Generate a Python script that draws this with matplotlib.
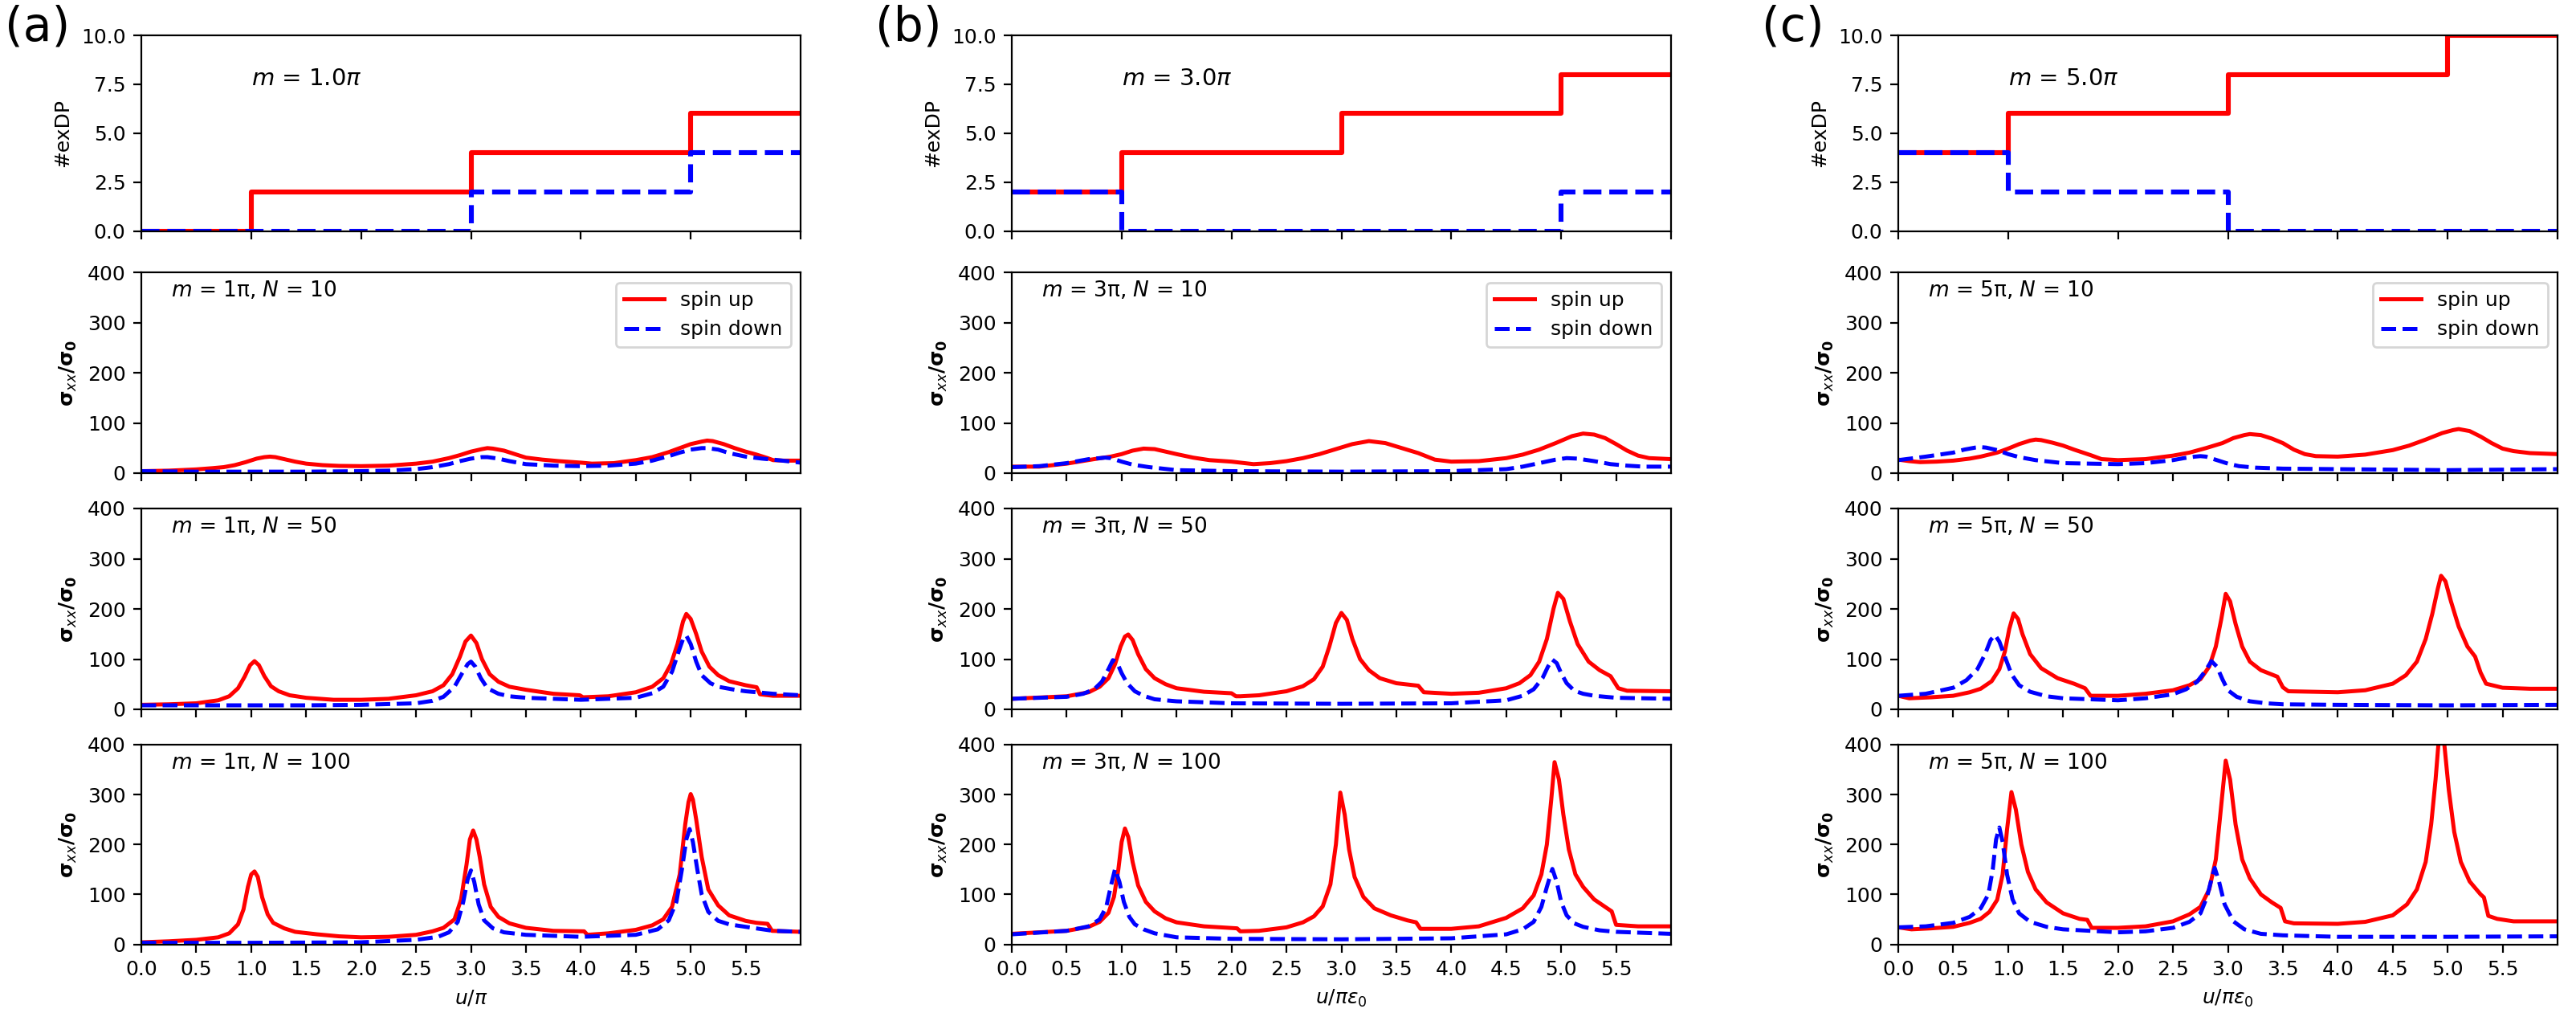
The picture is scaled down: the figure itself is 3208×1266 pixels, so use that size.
import numpy as np
import matplotlib.pyplot as plt

# ---- number of extra Dirac points (top row), steps-post
steps_a_up_x = [0, 1, 3, 5, 6]
steps_a_up_y = [0, 2, 4, 6, 6]
steps_a_dn_x = [0, 3, 5, 6]
steps_a_dn_y = [0, 2, 4, 4]
steps_b_up_x = [0, 1, 3, 5, 6]
steps_b_up_y = [2, 4, 6, 8, 8]
steps_b_dn_x = [0, 1, 5, 6]
steps_b_dn_y = [2, 0, 2, 2]
steps_c_up_x = [0, 1, 3, 5, 6]
steps_c_up_y = [4, 6, 8, 10, 10]
steps_c_dn_x = [0, 1, 3, 6]
steps_c_dn_y = [4, 2, 0, 0]

# ---- column (a), m = 1pi
up_a10_x = [0, 0.25, 0.5, 0.65, 0.75, 0.85, 0.95, 1.05, 1.12, 1.17, 1.22, 1.3, 1.4, 1.5, 1.65, 1.8, 2.0,
            2.25, 2.5, 2.65, 2.8, 2.9, 3.0, 3.1, 3.15, 3.2, 3.3, 3.4, 3.5, 3.65, 3.8, 4.0, 4.1, 4.3,
            4.5, 4.65, 4.8, 4.9, 5.0, 5.1, 5.15, 5.2, 5.3, 5.4, 5.5, 5.6, 5.7, 5.75, 5.85, 6.0]
up_a10_y = [4, 5, 7.5, 10, 12, 16, 22, 29, 32, 33, 32, 28, 23, 19, 16, 14.5, 14,
            15, 19, 23, 30, 36, 43, 48, 50, 49, 45, 38, 31, 27, 24, 21, 19, 20,
            26, 32, 42, 50, 58, 63, 65, 64, 58, 50, 43, 37, 30, 26, 25, 25]
dn_a10_x = [0, 0.5, 1.0, 1.5, 2.0, 2.25, 2.5, 2.65, 2.8, 2.9, 3.0, 3.1, 3.15, 3.25, 3.35, 3.5, 3.75,
            4.0, 4.25, 4.5, 4.65, 4.8, 4.9, 5.0, 5.1, 5.15, 5.25, 5.35, 5.5, 5.65, 5.75, 6.0]
dn_a10_y = [4, 3, 3, 3, 4, 5, 8, 12, 18, 24, 29, 32, 32, 29, 24, 18, 15,
            14, 15, 19, 25, 34, 41, 47, 50, 50, 47, 40, 33, 29, 27, 21]

up_a50_x = [0, 0.25, 0.5, 0.7, 0.8, 0.88, 0.94, 0.99, 1.03, 1.07, 1.12, 1.18, 1.25, 1.35, 1.5, 1.75,
            2.0, 2.25, 2.5, 2.65, 2.75, 2.83, 2.9, 2.95, 3.0, 3.05, 3.1, 3.17, 3.25, 3.35, 3.5, 3.75,
            3.99, 4.02, 4.25, 4.5, 4.65, 4.75, 4.82, 4.88, 4.93, 4.96, 5.0, 5.05, 5.1, 5.17, 5.25,
            5.35, 5.5, 5.6, 5.63, 5.75, 6.0]
up_a50_y = [9, 10, 12, 18, 26, 42, 65, 88, 96, 88, 66, 46, 36, 28, 23, 19,
            19, 21, 28, 36, 48, 70, 105, 135, 147, 132, 100, 70, 55, 45, 39, 31,
            28, 24, 26, 34, 45, 62, 90, 130, 175, 190, 180, 150, 115, 85, 68,
            56, 48, 44, 30, 27, 27]
dn_a50_x = [0, 0.5, 1.0, 1.5, 2.0, 2.5, 2.65, 2.75, 2.85, 2.92, 2.97, 3.0, 3.04, 3.09, 3.15, 3.25,
            3.35, 3.5, 4.0, 4.5, 4.65, 4.75, 4.83, 4.89, 4.93, 4.96, 5.0, 5.05, 5.1, 5.18, 5.25,
            5.4, 5.5, 5.75, 6.0]
dn_a50_y = [8, 8, 8, 8, 9, 12, 17, 25, 45, 72, 90, 95, 85, 62, 42, 31,
            26, 23, 19, 23, 32, 45, 75, 115, 140, 147, 130, 95, 68, 52, 45,
            39, 36, 31, 28]

up_a100_x = [0, 0.25, 0.5, 0.7, 0.8, 0.88, 0.93, 0.97, 1.0, 1.03, 1.06, 1.1, 1.15, 1.2, 1.3, 1.4, 1.6,
             1.8, 2.0, 2.25, 2.5, 2.65, 2.75, 2.85, 2.91, 2.96, 2.99, 3.02, 3.05, 3.08, 3.12, 3.18,
             3.25, 3.35, 3.5, 3.75, 4.03, 4.06, 4.25, 4.5, 4.65, 4.75, 4.83, 4.9, 4.95, 4.98, 5.0,
             5.02, 5.05, 5.1, 5.16, 5.25, 5.35, 5.5, 5.6, 5.7, 5.74, 6.0]
up_a100_y = [4, 6, 9, 14, 22, 40, 70, 115, 140, 146, 135, 94, 60, 43, 32, 25, 20,
             16, 14, 15, 19, 26, 33, 50, 90, 160, 210, 228, 210, 175, 120, 75,
             55, 42, 33, 27, 26, 19, 22, 29, 38, 50, 75, 140, 240, 285, 301,
             290, 250, 175, 110, 78, 58, 47, 43, 41, 27, 25]
dn_a100_x = [0, 1.0, 2.0, 2.5, 2.7, 2.8, 2.88, 2.93, 2.97, 3.0, 3.03, 3.07, 3.12, 3.2, 3.3, 3.5, 4.0,
             4.5, 4.7, 4.8, 4.87, 4.92, 4.96, 4.99, 5.02, 5.06, 5.1, 5.16, 5.25, 5.35, 5.5, 5.75, 6.0]
dn_a100_y = [3, 3, 4, 9, 15, 24, 45, 85, 130, 148, 125, 80, 48, 32, 24, 19, 15,
             19, 30, 48, 85, 150, 210, 231, 205, 150, 100, 65, 47, 40, 35, 27, 25]

# ---- column (b), m = 3pi
up_b10_x = [0, 0.25, 0.5, 0.75, 0.9, 1.0, 1.1, 1.2, 1.3, 1.4, 1.5, 1.65, 1.8, 2.0, 2.2, 2.35, 2.5,
            2.65, 2.8, 2.95, 3.1, 3.25, 3.4, 3.55, 3.7, 3.85, 4.0, 4.25, 4.5, 4.65, 4.8, 4.95, 5.1,
            5.2, 5.3, 5.4, 5.5, 5.6, 5.7, 5.8, 6.0]
up_b10_y = [13, 13, 19, 28, 33, 38, 45, 49, 48, 43, 38, 31, 26, 23, 18, 20, 24,
            30, 38, 48, 58, 64, 60, 50, 40, 27, 23, 24, 30, 37, 47, 60, 74,
            79, 77, 70, 58, 45, 35, 30, 28]
dn_b10_x = [0, 0.25, 0.5, 0.6, 0.7, 0.8, 0.85, 0.9, 1.0, 1.1, 1.25, 1.5, 2.0, 3.0, 4.0, 4.5, 4.65,
            4.8, 4.95, 5.05, 5.15, 5.3, 5.45, 5.6, 5.75, 6.0]
dn_b10_y = [12, 14, 20, 24, 28, 30, 31, 30, 23, 17, 12, 6, 4, 3, 4, 8, 13,
            20, 27, 30, 29, 24, 18, 15, 13, 13]

up_b50_x = [0, 0.5, 0.7, 0.8, 0.88, 0.94, 0.99, 1.03, 1.06, 1.1, 1.15, 1.22, 1.3, 1.4, 1.5, 1.75, 2.0,
            2.04, 2.08, 2.25, 2.5, 2.65, 2.75, 2.83, 2.89, 2.95, 3.0, 3.05, 3.1, 3.17, 3.25, 3.35,
            3.5, 3.7, 3.75, 4.0, 4.25, 4.5, 4.62, 4.72, 4.8, 4.87, 4.93, 4.97, 5.02, 5.08, 5.15,
            5.25, 5.35, 5.45, 5.52, 5.6, 6.0]
up_b50_y = [21, 26, 34, 45, 62, 90, 125, 145, 149, 138, 110, 80, 62, 50, 42, 35, 32,
            26, 26, 28, 36, 46, 60, 85, 125, 172, 192, 178, 140, 100, 78, 62,
            52, 47, 34, 31, 33, 42, 52, 68, 95, 140, 200, 232, 220, 175, 130,
            95, 78, 66, 42, 37, 36]
dn_b50_x = [0, 0.5, 0.65, 0.75, 0.82, 0.88, 0.92, 0.96, 1.0, 1.05, 1.12, 1.2, 1.3, 1.5, 2.0, 3.0, 4.0,
            4.5, 4.65, 4.75, 4.83, 4.88, 4.92, 4.96, 5.0, 5.05, 5.12, 5.2, 5.3, 5.5, 6.0]
dn_b50_y = [21, 25, 31, 40, 55, 80, 98, 92, 72, 52, 36, 27, 20, 16, 12, 11, 12,
            18, 27, 40, 62, 85, 99, 92, 72, 52, 37, 31, 27, 23, 21]

up_b100_x = [0, 0.5, 0.7, 0.8, 0.88, 0.93, 0.97, 1.0, 1.03, 1.06, 1.1, 1.15, 1.22, 1.3, 1.4, 1.5, 1.75,
             2.05, 2.08, 2.25, 2.5, 2.65, 2.75, 2.83, 2.9, 2.95, 2.99, 3.03, 3.07, 3.12, 3.2, 3.3,
             3.45, 3.6, 3.68, 3.72, 4.0, 4.25, 4.5, 4.65, 4.75, 4.82, 4.87, 4.91, 4.94, 4.98, 5.02,
             5.07, 5.13, 5.2, 5.3, 5.42, 5.46, 5.5, 5.7, 6.0]
up_b100_y = [21, 27, 35, 45, 63, 95, 150, 205, 232, 215, 165, 118, 85, 66, 52, 44, 36,
             32, 26, 27, 34, 44, 56, 76, 120, 200, 304, 260, 190, 135, 95, 72,
             58, 48, 44, 31, 31, 36, 53, 72, 98, 140, 200, 290, 365, 330, 260,
             190, 140, 115, 90, 72, 66, 39, 36, 36]
dn_b100_x = [0, 0.5, 0.7, 0.8, 0.86, 0.9, 0.94, 0.98, 1.02, 1.07, 1.12, 1.2, 1.3, 1.5, 2.0, 3.0, 4.0,
             4.5, 4.65, 4.75, 4.82, 4.87, 4.92, 4.96, 5.0, 5.05, 5.12, 5.2, 5.35, 5.5, 6.0]
dn_b100_y = [20, 27, 36, 50, 75, 115, 151, 125, 85, 55, 40, 30, 22, 14, 11, 10, 12,
             20, 30, 45, 75, 115, 151, 125, 85, 58, 42, 35, 28, 25, 21]

# ---- column (c), m = 5pi
up_c10_x = [0, 0.1, 0.2, 0.35, 0.5, 0.65, 0.75, 0.9, 1.0, 1.1, 1.2, 1.25, 1.3, 1.4, 1.5, 1.6, 1.75,
            1.85, 2.0, 2.25, 2.5, 2.65, 2.8, 2.95, 3.05, 3.15, 3.2, 3.3, 3.4, 3.5, 3.6, 3.7, 3.8,
            4.0, 4.25, 4.5, 4.65, 4.8, 4.95, 5.05, 5.1, 5.2, 5.3, 5.4, 5.5, 5.6, 5.75, 6.0]
up_c10_y = [27, 24, 22, 23, 25, 29, 33, 41, 49, 58, 65, 67, 66, 61, 55, 47, 36,
            28, 26, 28, 35, 41, 50, 60, 70, 76, 78, 76, 69, 60, 47, 38, 34,
            33, 37, 46, 55, 67, 80, 86, 88, 84, 73, 60, 49, 44, 40, 38]
dn_c10_x = [0, 0.25, 0.5, 0.6, 0.7, 0.75, 0.8, 0.9, 1.0, 1.1, 1.25, 1.5, 2.0, 2.25, 2.5, 2.6, 2.7,
            2.75, 2.8, 2.9, 3.0, 3.1, 3.25, 3.5, 4.0, 5.0, 6.0]
dn_c10_y = [26, 33, 41, 47, 51, 52, 51, 46, 38, 32, 26, 20, 18, 20, 26, 30, 33,
            34, 33, 26, 19, 14, 11, 9, 8, 6, 8]

up_c50_x = [0, 0.1, 0.3, 0.5, 0.65, 0.75, 0.85, 0.92, 0.97, 1.01, 1.05, 1.09, 1.13, 1.2, 1.3, 1.45,
            1.6, 1.7, 1.75, 2.0, 2.25, 2.5, 2.65, 2.75, 2.83, 2.89, 2.94, 2.98, 3.02, 3.07, 3.13,
            3.2, 3.3, 3.45, 3.5, 3.55, 4.0, 4.25, 4.5, 4.62, 4.72, 4.8, 4.86, 4.91, 4.94, 4.98,
            5.03, 5.1, 5.18, 5.25, 5.3, 5.35, 5.5, 5.75, 6.0]
up_c50_y = [27, 22, 24, 27, 34, 41, 56, 80, 115, 160, 191, 180, 150, 110, 82, 62,
            51, 42, 27, 27, 31, 38, 48, 60, 85, 125, 180, 230, 215, 170, 125,
            95, 78, 65, 44, 36, 34, 38, 51, 68, 95, 140, 190, 240, 266, 255,
            215, 165, 125, 105, 73, 51, 43, 41, 41]
dn_c50_x = [0, 0.25, 0.5, 0.62, 0.72, 0.79, 0.84, 0.88, 0.92, 0.97, 1.03, 1.1, 1.2, 1.35, 1.5, 2.0,
            2.25, 2.5, 2.62, 2.72, 2.79, 2.85, 2.9, 2.95, 3.0, 3.08, 3.2, 3.35, 3.5, 4.0, 5.0, 6.0]
dn_c50_y = [27, 31, 43, 58, 80, 110, 138, 148, 135, 105, 70, 48, 35, 26, 22, 18,
            22, 30, 40, 55, 75, 96, 85, 60, 38, 25, 16, 12, 10, 9, 8, 9]

up_c100_x = [0, 0.12, 0.3, 0.5, 0.65, 0.75, 0.83, 0.9, 0.95, 0.99, 1.03, 1.07, 1.12, 1.18, 1.25, 1.35,
             1.5, 1.65, 1.72, 1.76, 2.0, 2.25, 2.5, 2.65, 2.75, 2.83, 2.89, 2.94, 2.98, 3.02, 3.07,
             3.13, 3.2, 3.3, 3.4, 3.48, 3.52, 3.6, 4.0, 4.25, 4.5, 4.63, 4.72, 4.8, 4.85, 4.89,
             4.93, 4.97, 5.01, 5.06, 5.12, 5.2, 5.3, 5.33, 5.37, 5.45, 5.6, 6.0]
up_c100_y = [34, 30, 32, 35, 43, 51, 65, 89, 140, 230, 305, 270, 200, 145, 110, 84,
             62, 51, 49, 33, 33, 36, 46, 60, 75, 110, 170, 280, 368, 330, 240,
             170, 132, 100, 84, 73, 46, 42, 41, 45, 58, 80, 110, 165, 240, 330,
             440, 400, 310, 225, 165, 126, 100, 94, 57, 51, 46, 46]
dn_c100_x = [0, 0.25, 0.5, 0.65, 0.75, 0.82, 0.86, 0.89, 0.92, 0.95, 0.99, 1.04, 1.1, 1.2, 1.35, 1.5,
             2.0, 2.25, 2.5, 2.65, 2.75, 2.81, 2.85, 2.88, 2.92, 2.97, 3.05, 3.15, 3.3, 3.5, 4.0,
             5.0, 6.0]
dn_c100_y = [34, 36, 43, 55, 72, 100, 150, 210, 234, 205, 140, 90, 62, 45, 35, 30,
             24, 26, 33, 45, 62, 95, 130, 153, 125, 80, 46, 30, 21, 18, 15,
             15, 16]

panel_tags = ['(a)', '(b)', '(c)']
m_top = ['1.0', '3.0', '5.0']
m_row = ['1', '3', '5']
n_values = [10, 50, 100]
xlabels = [r'$u/\pi$', r'$u/\pi\varepsilon_0$', r'$u/\pi\varepsilon_0$']

steps = [
    (steps_a_up_x, steps_a_up_y, steps_a_dn_x, steps_a_dn_y),
    (steps_b_up_x, steps_b_up_y, steps_b_dn_x, steps_b_dn_y),
    (steps_c_up_x, steps_c_up_y, steps_c_dn_x, steps_c_dn_y),
]
curves = [
    [(up_a10_x, up_a10_y, dn_a10_x, dn_a10_y),
     (up_a50_x, up_a50_y, dn_a50_x, dn_a50_y),
     (up_a100_x, up_a100_y, dn_a100_x, dn_a100_y)],
    [(up_b10_x, up_b10_y, dn_b10_x, dn_b10_y),
     (up_b50_x, up_b50_y, dn_b50_x, dn_b50_y),
     (up_b100_x, up_b100_y, dn_b100_x, dn_b100_y)],
    [(up_c10_x, up_c10_y, dn_c10_x, dn_c10_y),
     (up_c50_x, up_c50_y, dn_c50_x, dn_c50_y),
     (up_c100_x, up_c100_y, dn_c100_x, dn_c100_y)],
]

W, H = 3208, 1266
fig = plt.figure(figsize=(W/200, H/200), dpi=200)
plt.rcParams['font.size'] = 9

col_left = [176, 1260, 2364]
col_w = 821
rows = [(44, 287.5), (339.5, 589), (633, 883), (927, 1175.5)]


def box(left, top, bottom):
    return [left/W, 1 - bottom/H, col_w/W, (bottom - top)/H]


ylab = r'$\mathbf{\sigma}_{xx}\mathbf{/\sigma}_\mathbf{0}$'

for c in range(3):
    # top: number of extra Dirac points
    ax = fig.add_axes(box(col_left[c], *rows[0]))
    ux, uy, dx, dy = steps[c]
    ax.plot(ux, uy, 'r-', lw=2.2, drawstyle='steps-post')
    ax.plot(dx, dy, 'b--', lw=2.2, drawstyle='steps-post')
    ax.set_xlim(0, 6)
    ax.set_ylim(0, 10)
    ax.set_xticks(np.arange(0, 7, 1))
    ax.set_yticks([0, 2.5, 5, 7.5, 10])
    ax.tick_params(labelbottom=False)
    ax.set_ylabel('#exDP')
    ax.text(0.167, 0.78, r'$m$ = ' + m_top[c] + r'$\pi$', transform=ax.transAxes,
            va='center', fontsize=10.5)
    fig.text(col_left[c]/W - 170/W, 1 - 6/H, panel_tags[c], fontsize=21, va='top')

    for r in range(3):
        ax = fig.add_axes(box(col_left[c], *rows[r + 1]))
        ux, uy, dx, dy = curves[c][r]
        ax.plot(ux, uy, 'r-', lw=1.8, label='spin up')
        ax.plot(dx, dy, 'b--', lw=1.8, label='spin down')
        ax.set_xlim(0, 6)
        ax.set_ylim(0, 400)
        ax.set_xticks(np.arange(0, 6, 0.5))
        ax.set_yticks([0, 100, 200, 300, 400])
        ax.set_ylabel(ylab)
        ax.text(0.045, 0.91, '$m$ = ' + m_row[c] + 'π, $N$ = ' + str(n_values[r]),
                transform=ax.transAxes, va='center', fontsize=9.5)
        if r == 0:
            ax.legend(loc='upper right')
        if r < 2:
            ax.tick_params(labelbottom=False)
        else:
            ax.set_xlabel(xlabels[c])

fig.savefig('out.png', dpi=200)
